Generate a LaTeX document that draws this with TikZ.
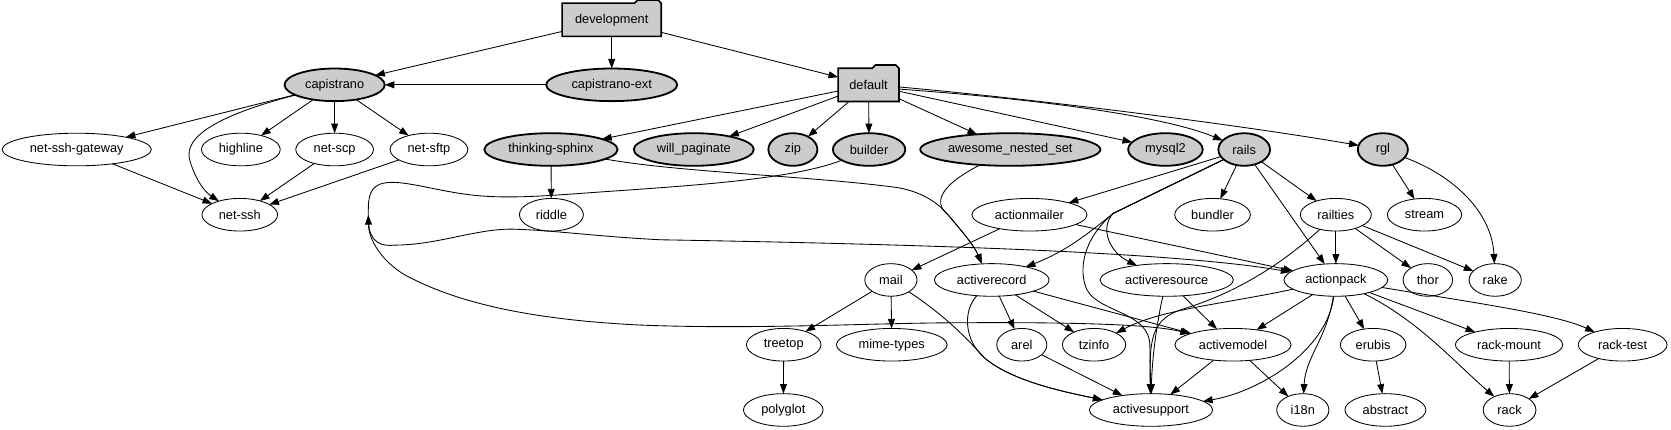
\documentclass[tikz,border=0pt]{standalone}
\usepackage{fontspec}
\setmainfont{Liberation Sans}
\usetikzlibrary{shapes.geometric,arrows.meta,calc}
\definecolor{nodegray}{RGB}{204,204,204}
\newcommand\foldernode[5]{%
  \draw[fill=nodegray, line width=1.5pt, line join=miter]
    ({#2-#4/2},{#3+15.6}) -- ({#2-#4/2},{#3-15.6}) -- ({#2+#4/2-25},{#3-15.6}) --
    ({#2+#4/2-22},{#3-18.6}) -- ({#2+#4/2-3},{#3-18.6}) -- ({#2+#4/2},{#3-15.6}) --
    ({#2+#4/2},{#3+15.6}) -- cycle;
  \node[foldbox, minimum width=#4pt] (#1) at (#2,#3) {#5};
}
\begin{document}
\begin{tikzpicture}[x=1pt,y=-1pt,
  every node/.style={font=\fontsize{12}{14}\selectfont, inner sep=0pt, outer sep=0pt},
  gemnode/.style={ellipse, draw, line width=0.8pt, minimum height=30.6pt},
  rootgem/.style={gemnode, fill=nodegray, line width=1.7pt},
  foldbox/.style={rectangle, minimum height=31.2pt},
  e/.style={draw, line width=0.8pt, -{Triangle[length=9pt,width=6.5pt]}},
  ee/.style={draw, line width=0.8pt, {Triangle[length=9pt,width=6.5pt]}-{Triangle[length=9pt,width=6.5pt]}},
  ne/.style={draw, line width=0.8pt}
]
\path[use as bounding box] (0,0) rectangle (1568,403);

% row 1-2 folders
\foldernode{development}{574}{18.6}{93}{development}
\foldernode{default}{815}{79.6}{57.2}{default}

% row 2
\node[rootgem, minimum width=94pt] (capistrano) at (314,79.6) {capistrano};
\node[rootgem, minimum width=123pt] (capistranoext) at (574,79.6) {capistrano-ext};

% row 3
\node[gemnode, minimum width=140pt] (netsshgateway) at (72,140.3) {net-ssh-gateway};
\node[gemnode, minimum width=74pt] (highline) at (226,140.3) {highline};
\node[gemnode, minimum width=73pt] (netscp) at (314,140.3) {net-scp};
\node[gemnode, minimum width=73pt] (netsftp) at (402.5,140.3) {net-sftp};
\node[rootgem, minimum width=125pt] (thinkingsphinx) at (517,140.3) {thinking-sphinx};
\node[rootgem, minimum width=112.6pt] (willpaginate) at (651,140.3) {will\_paginate};
\node[rootgem, minimum width=46pt] (zip) at (744,140.3) {zip};
\node[rootgem, minimum width=68pt] (builder) at (815.5,140.3) {builder};
\node[rootgem, minimum width=169pt] (awesome) at (948,140.3) {awesome\_nested\_set};
\node[rootgem, minimum width=70pt] (mysql2) at (1093.6,140.3) {mysql2};
\node[rootgem, minimum width=48.5pt] (rails) at (1167.5,140.3) {rails};
\node[rootgem, minimum width=47pt] (rgl) at (1297.6,140.3) {rgl};

% row 4
\node[gemnode, minimum width=71pt] (netssh) at (225,201.5) {net-ssh};
\node[gemnode, minimum width=60pt] (riddle) at (517.4,201.5) {riddle};
\node[gemnode, minimum width=108pt] (actionmailer) at (966,201.5) {actionmailer};
\node[gemnode, minimum width=71pt] (bundler) at (1137.8,201.5) {bundler};
\node[gemnode, minimum width=66.6pt] (railties) at (1253.5,201.5) {railties};
\node[gemnode, minimum width=69.7pt] (stream) at (1336.7,201.5) {stream};

% row 5
\node[gemnode, minimum width=49pt] (mail) at (836,262.7) {mail};
\node[gemnode, minimum width=107.6pt] (activerecord) at (930.6,262.7) {activerecord};
\node[gemnode, minimum width=125pt] (activeresource) at (1094.8,262.7) {activeresource};
\node[gemnode, minimum width=97.4pt] (actionpack) at (1253.5,262.7) {actionpack};
\node[gemnode, minimum width=46.5pt] (thor) at (1339.8,262.7) {thor};
\node[gemnode, minimum width=49pt] (rake) at (1403,262.7) {rake};

% row 6
\node[gemnode, minimum width=70pt] (treetop) at (735.4,323.5) {treetop};
\node[gemnode, minimum width=104pt] (mimetypes) at (836.8,323.5) {mime-types};
\node[gemnode, minimum width=47pt] (arel) at (958.8,323.5) {arel};
\node[gemnode, minimum width=59.4pt] (tzinfo) at (1026.6,323.5) {tzinfo};
\node[gemnode, minimum width=109pt] (activemodel) at (1157,323.5) {activemodel};
\node[gemnode, minimum width=61.5pt] (erubis) at (1288.5,323.5) {erubis};
\node[gemnode, minimum width=100.8pt] (rackmount) at (1416,323.5) {rack-mount};
\node[gemnode, minimum width=83.4pt] (racktest) at (1522.6,323.5) {rack-test};

% row 7
\node[gemnode, minimum width=74.7pt] (polyglot) at (735,384.7) {polyglot};
\node[gemnode, minimum width=115.7pt] (activesupport) at (1080,384.7) {activesupport};
\node[gemnode, minimum width=49pt] (i18n) at (1222.5,384.7) {i18n};
\node[gemnode, minimum width=76pt] (abstract) at (1300,384.7) {abstract};
\node[gemnode, minimum width=49.5pt] (rack) at (1416.5,384.7) {rack};

\coordinate (bj) at (345.6,201.8);
\coordinate (jr) at (1044.7,200.2);
\coordinate (ms) at (924,336);
\coordinate (am) at (890,202);

% development
\draw[e] (development) -- (capistrano);
\draw[e] (development) -- (capistranoext);
\draw[e] (development) -- (default);
\draw[e] (capistranoext) -- (capistrano);

% capistrano
\draw[e] (capistrano) -- (netsshgateway);
\draw[e] (capistrano) -- (highline);
\draw[e] (capistrano) -- (netscp);
\draw[e] (capistrano) -- (netsftp);
\draw[e] (capistrano) .. controls (205,108) and (172,128) .. (178,150) .. controls (183,168) and (192,180) .. (netssh);
\draw[e] (netsshgateway) -- (netssh);
\draw[e] (netscp) -- (netssh);
\draw[e] (netsftp) -- (netssh);

% default
\draw[e] (default) -- (thinkingsphinx);
\draw[e] (default) -- (willpaginate);
\draw[e] (default) -- (zip);
\draw[e] (default) -- (builder);
\draw[e] (default) -- (awesome);
\draw[e] ($(default.east)+(0,6)$) -- (mysql2);
\draw[e] ($(default.east)+(0,4)$) .. controls (1000,95) and (1100,112) .. (rails);
\draw[e] ($(default.east)+(0,2)$) .. controls (960,92) and (1150,115) .. (rgl);

% thinking-sphinx, awesome_nested_set
\draw[e] (thinkingsphinx) -- (riddle);
\draw[e] (thinkingsphinx) .. controls (640,162) and (760,165) .. (842,176) .. controls (865,180) and (880,190) .. (am) .. controls (900,214) and (914,230) .. ($(activerecord.north)+(-9.4,0)$);
\draw[e] (awesome) .. controls (878,176) and (877,192) .. (am) .. controls (900,214) and (914,230) .. ($(activerecord.north)+(-9.4,0)$);

% rails
\draw[e] (rails) -- (actionmailer);
\draw[e] (rails) -- (bundler);
\draw[e] (rails) -- (actionpack);
\draw[e] (rails) -- (railties);
\draw[e] (rails) -- (jr) .. controls (1020,220) and (1000,236) .. (activerecord);
\draw[e] (rails) -- (jr) .. controls (1032,213) and (1040,236) .. (activeresource);
\draw[e] (rails) -- (jr) .. controls (1015,225) and (1012,255) .. (1020,272) .. controls (1032,294) and (1079,292) .. (1079,325) -- (activesupport);

% railties
\draw[e] (railties) -- (actionpack);
\draw[e] (railties) -- (thor);
\draw[e] (railties) -- (rake);
\draw[e] (railties) .. controls (1195,255) and (1150,278) .. (1110,290) .. controls (1082,299) and (1078,315) .. (activesupport);

% rgl
\draw[e] (rgl) -- (stream);
\draw[e] (rgl) .. controls (1365,165) and (1400,200) .. (rake);

% actionmailer, mail
\draw[e] (actionmailer) -- (mail);
\draw[e] (actionmailer) -- (actionpack);
\draw[e] (mail) -- (treetop);
\draw[e] (mail) -- (mimetypes);
\draw[e] (mail) .. controls (885,295) and (905,315) .. (ms) .. controls (950,358) and (1000,368) .. (activesupport);
\draw[e] (treetop) -- (polyglot);

% activerecord
\draw[e] (activerecord) -- (arel);
\draw[e] (activerecord) -- (tzinfo);
\draw[e] (activerecord) -- (activemodel);
\draw[e] (activerecord) .. controls (903,292) and (905,320) .. (ms) .. controls (950,358) and (1000,368) .. (activesupport);
\draw[e] (arel) -- (activesupport);

% activeresource
\draw[e] (activeresource) -- (activemodel);
\draw[e] (activeresource) .. controls (1086,300) and (1081,335) .. (activesupport);

% actionpack
\draw[e] (actionpack) -- (activemodel);
\draw[e] (actionpack) -- (erubis);
\draw[e] (actionpack) -- (rackmount);
\draw[e] (actionpack) .. controls (1150,285) and (1090,290) .. (tzinfo);
\draw[e] (actionpack) .. controls (1245,330) and (1180,368) .. (activesupport);
\draw[e] (actionpack) .. controls (1245,318) and (1225,335) .. (i18n);
\draw[e] (actionpack) .. controls (1330,300) and (1365,340) .. (rack);
\draw[e] (actionpack) .. controls (1390,285) and (1460,295) .. (racktest);

% activemodel and leaves
\draw[e] (activemodel) -- (activesupport);
\draw[e] (activemodel) -- (i18n);
\draw[e] (erubis) -- (abstract);
\draw[e] (rackmount) -- (rack);
\draw[e] (racktest) -- (rack);

% builder back edges
\draw[ne] (builder) .. controls (745,168) and (650,174) .. (580,179) .. controls (520,183) and (475,188) .. (435,182) .. controls (400,177) and (372,167) .. (356,173) .. controls (345,178) and (345.6,190) .. (bj);
\draw[ee] (bj) .. controls (346,225) and (358,245) .. (380,258) .. controls (430,285) and (500,300) .. (600,305) .. controls (700,309) and (800,304) .. (880,303) .. controls (1000,302) and (1080,304) .. (activemodel);
\draw[e] (bj) .. controls (345,222) and (352,232) .. (370,230) .. controls (410,230) and (445,215) .. (480,215) .. controls (520,216) and (560,222) .. (620,225) .. controls (850,229) and (1100,236) .. (actionpack);
\end{tikzpicture}
\end{document}
